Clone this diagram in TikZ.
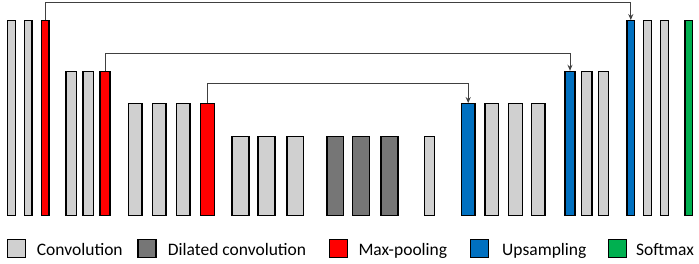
\documentclass[tikz,border=0pt]{standalone}
\usepackage{fontspec}
\setmainfont{Carlito}
\usetikzlibrary{arrows.meta,positioning}
\definecolor{convgray}{RGB}{208,208,208}
\definecolor{dilgray}{RGB}{118,118,118}
\definecolor{poolred}{RGB}{255,0,0}
\definecolor{upblue}{RGB}{0,112,192}
\definecolor{softgreen}{RGB}{0,176,80}
\tikzset{
  bar/.style={draw=black, line width=1.4pt, rectangle, inner sep=0pt, anchor=south},
  convbar/.style={bar, fill=convgray},
  dilbar/.style={bar, fill=dilgray},
  poolbar/.style={bar, fill=poolred},
  upbar/.style={bar, fill=upblue},
  softbar/.style={bar, fill=softgreen},
  lvA/.style={minimum width=7.6pt, minimum height=194.8pt},
  lvB/.style={minimum width=10.1pt, minimum height=144.1pt},
  lvC/.style={minimum width=13.6pt, minimum height=111.8pt},
  lvD/.style={minimum width=16.8pt, minimum height=79.1pt},
  skip/.style={draw=black!75, line width=1pt, -{Stealth[length=6pt,width=5pt]}},
  legbox/.style={draw=black, line width=1.4pt, minimum size=18pt, inner sep=0pt},
  legtext/.style={inner sep=0pt, anchor=base west, font=\fontsize{17.5}{21}\selectfont}
}

\begin{document}
\begin{tikzpicture}[x=1pt, y=-1pt]
    \useasboundingbox (0,0) rectangle (699,264);

    % Encoder, first level
    \node[convbar, lvA] (A1) at (11.5,216.3) {};
    \node[convbar, lvA] (A2) at (28,216.3) {};
    \node[poolbar, lvA] (A3) at (45.3,216.3) {};

    % Encoder, second level
    \node[convbar, lvB] (B1) at (71.2,216.3) {};
    \node[convbar, lvB] (B2) at (88.2,216.3) {};
    \node[poolbar, lvB] (B3) at (105,216.3) {};

    % Encoder, third level
    \node[convbar, lvC] (C1) at (135.2,216.3) {};
    \node[convbar, lvC] (C2) at (159.2,216.3) {};
    \node[convbar, lvC] (C3) at (183.2,216.3) {};
    \node[poolbar, lvC] (C4) at (207.5,216.3) {};

    % Bottom level, plain and dilated convolutions
    \node[convbar, lvD] (D1) at (240.5,216.3) {};
    \node[convbar, lvD] (D2) at (266.5,216.3) {};
    \node[convbar, lvD] (D3) at (295.3,216.3) {};
    \node[dilbar, lvD] (D4) at (335.2,216.3) {};
    \node[dilbar, lvD] (D5) at (360.8,216.3) {};
    \node[dilbar, lvD] (D6) at (389.5,216.3) {};
    \node[convbar, lvD, minimum width=10.2pt] (D7) at (429.5,216.3) {};

    % Decoder, third level
    \node[upbar, lvC] (E1) at (468.2,216.3) {};
    \node[convbar, lvC] (E2) at (491.7,216.3) {};
    \node[convbar, lvC] (E3) at (515.5,216.3) {};
    \node[convbar, lvC] (E4) at (538.2,216.3) {};

    % Decoder, second level
    \node[upbar, lvB] (F1) at (570,216.3) {};
    \node[convbar, lvB] (F2) at (586.8,216.3) {};
    \node[convbar, lvB] (F3) at (603.5,216.3) {};

    % Decoder, first level
    \node[upbar, lvA] (G1) at (630.8,216.3) {};
    \node[convbar, lvA] (G2) at (647.5,216.3) {};
    \node[convbar, lvA] (G3) at (664.5,216.3) {};
    \node[softbar, lvA] (G4) at (688.7,216.3) {};

    % Skip connections
    \draw[skip] (A3.north) -- ++(0,-17.5) -| (G1.north);
    \draw[skip] (B3.north) -- ++(0,-17.2) -| (F1.north);
    \draw[skip] (C4.north) -- ++(0,-19.1) -| (E1.north);

    % Legend
    \node[legbox, fill=convgray] (Lconv) at (16.4,248.7) {};
    \node[legtext] (Tconv) at (36.7,256) {Convolution};
    \node[legbox, fill=dilgray] (Ldil) at (147,248.7) {};
    \node[legtext] (Tdil) at (167.7,256) {Dilated convolution};
    \node[legbox, fill=poolred] (Lpool) at (338.7,248.7) {};
    \node[legtext] (Tpool) at (358.3,256) {Max-pooling};
    \node[legbox, fill=upblue] (Lup) at (479.5,248.7) {};
    \node[legtext] (Tup) at (502,256) {Upsampling};
    \node[legbox, fill=softgreen] (Lsoft) at (617.2,248.7) {};
    \node[legtext] (Tsoft) at (636,256) {Softmax};
\end{tikzpicture}
\end{document}
